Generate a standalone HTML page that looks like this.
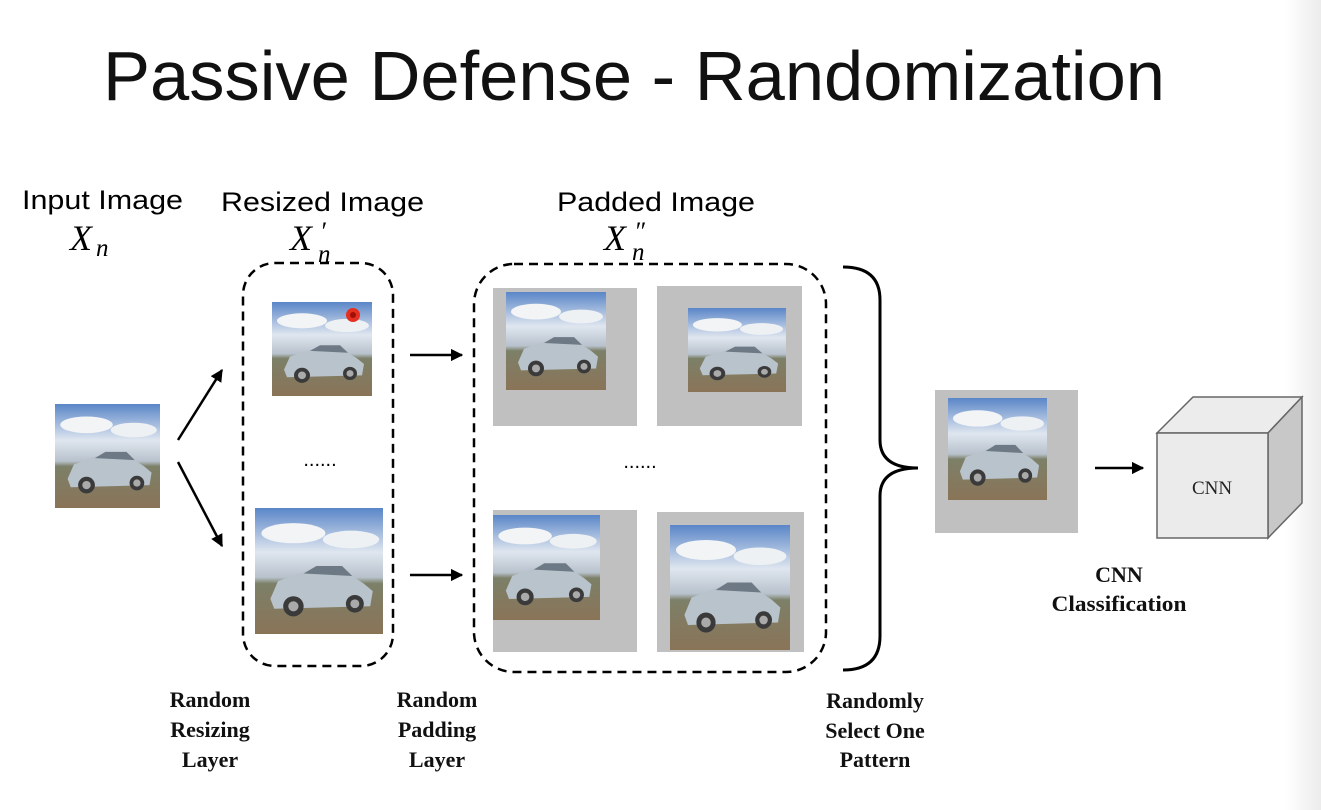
<!DOCTYPE html>
<html><head><meta charset="utf-8"><style>
body{margin:0;background:#fff;}
svg{display:block;}
</style></head><body>
<svg width="1321" height="810" viewBox="0 0 1321 810" xmlns="http://www.w3.org/2000/svg">
<defs>
<linearGradient id="strip" x1="0" x2="1"><stop offset="0" stop-color="#fff"/><stop offset="1" stop-color="#ececec"/></linearGradient>
<linearGradient id="sky" x1="0" y1="0" x2="0" y2="1"><stop offset="0" stop-color="#5a86c8"/><stop offset="0.35" stop-color="#dfe6ef"/><stop offset="0.55" stop-color="#b8c2cc"/><stop offset="0.6" stop-color="#7c8068"/><stop offset="1" stop-color="#8a7458"/></linearGradient>
<symbol id="photo" viewBox="0 0 100 100" preserveAspectRatio="none">
<rect width="100" height="100" fill="url(#sky)"/>
<ellipse cx="30" cy="20" rx="25" ry="8" fill="#f2f4f6"/>
<ellipse cx="75" cy="25" rx="22" ry="7" fill="#eef1f4"/>
<path d="M12 72 L18 58 L40 50 L70 50 L85 60 L92 66 L90 78 L15 80 Z" fill="#b9c3cc"/>
<path d="M38 52 L48 46 L68 46 L76 54 Z" fill="#6d7a86"/>
<circle cx="30" cy="78" r="8" fill="#3a3a3a"/><circle cx="30" cy="78" r="4" fill="#aaa"/>
<circle cx="78" cy="76" r="7" fill="#3a3a3a"/><circle cx="78" cy="76" r="3.5" fill="#aaa"/>
</symbol>
<marker id="ah" viewBox="0 0 10 10" refX="9" refY="5" markerWidth="5" markerHeight="5" orient="auto"><path d="M0 0 L10 5 L0 10 Z" fill="#000"/></marker>
</defs>
<rect x="1285" y="0" width="36" height="810" fill="url(#strip)"/>
<text x="103" y="100" font-family="Liberation Sans, sans-serif" font-size="70" fill="#111" textLength="1062" lengthAdjust="spacingAndGlyphs">Passive Defense - Randomization</text>

<g font-family="Liberation Sans, sans-serif" font-size="27" fill="#000">
<text x="22" y="209" textLength="161" lengthAdjust="spacingAndGlyphs">Input Image</text>
<text x="221" y="211" textLength="203" lengthAdjust="spacingAndGlyphs">Resized Image</text>
<text x="557" y="211" textLength="198" lengthAdjust="spacingAndGlyphs">Padded Image</text>
</g>
<g font-family="Liberation Serif, serif" font-style="italic" font-size="36" fill="#000">
<text x="70" y="250">X</text><text x="96" y="256" font-size="25">n</text>
<text x="290" y="250">X</text><text x="318" y="262" font-size="25">n</text><text x="320" y="240" font-size="26">′</text>
<text x="604" y="250">X</text><text x="632" y="260" font-size="25">n</text><text x="634" y="240" font-size="26">″</text>
</g>

<use href="#photo" x="55" y="404" width="105" height="104"/>
<line x1="178" y1="440" x2="222" y2="370" stroke="#000" stroke-width="2.5" marker-end="url(#ah)"/>
<line x1="178" y1="462" x2="222" y2="546" stroke="#000" stroke-width="2.5" marker-end="url(#ah)"/>

<rect x="243" y="263" width="150" height="403" rx="32" fill="none" stroke="#000" stroke-width="2.5" stroke-dasharray="9,6"/>
<use href="#photo" x="272" y="302" width="100" height="94"/>
<circle cx="353" cy="315" r="7" fill="#e53020"/><circle cx="353" cy="315" r="3" fill="#a01008"/>
<text x="320" y="466" font-family="Liberation Sans, sans-serif" font-size="20" text-anchor="middle">......</text>
<use href="#photo" x="255" y="508" width="128" height="126"/>

<line x1="410" y1="355" x2="462" y2="355" stroke="#000" stroke-width="2.5" marker-end="url(#ah)"/>
<line x1="410" y1="575" x2="462" y2="575" stroke="#000" stroke-width="2.5" marker-end="url(#ah)"/>

<rect x="474" y="264" width="352" height="408" rx="40" fill="none" stroke="#000" stroke-width="2.5" stroke-dasharray="9,6"/>
<rect x="493" y="288" width="144" height="138" fill="#c0c0c0"/>
<use href="#photo" x="506" y="292" width="100" height="98"/>
<rect x="657" y="286" width="145" height="140" fill="#c0c0c0"/>
<use href="#photo" x="688" y="308" width="98" height="84"/>
<text x="640" y="468" font-family="Liberation Sans, sans-serif" font-size="20" text-anchor="middle">......</text>
<rect x="493" y="510" width="144" height="142" fill="#c0c0c0"/>
<use href="#photo" x="493" y="515" width="107" height="105"/>
<rect x="657" y="512" width="147" height="140" fill="#c0c0c0"/>
<use href="#photo" x="670" y="525" width="120" height="125"/>

<path d="M843 267 Q880 267 880 300 L880 440 Q880 468 918 468 Q880 468 880 496 L880 636 Q880 670 843 670" fill="none" stroke="#000" stroke-width="3"/>

<rect x="935" y="390" width="143" height="143" fill="#c0c0c0"/>
<use href="#photo" x="948" y="398" width="99" height="102"/>
<line x1="1095" y1="468" x2="1143" y2="468" stroke="#000" stroke-width="2.5" marker-end="url(#ah)"/>

<polygon points="1157,433 1193,397 1302,397 1268,433" fill="#ececec" stroke="#666" stroke-width="1.5"/>
<polygon points="1268,433 1302,397 1302,503 1268,538" fill="#c8c8c8" stroke="#666" stroke-width="1.5"/>
<rect x="1157" y="433" width="111" height="105" fill="#ebebeb" stroke="#666" stroke-width="1.5"/>
<text x="1212" y="494" font-family="Liberation Serif, serif" font-size="19" text-anchor="middle" fill="#222">CNN</text>

<g font-family="Liberation Serif, serif" font-weight="bold" font-size="22" fill="#111" text-anchor="middle" lengthAdjust="spacingAndGlyphs">
<text x="1119" y="582">CNN</text><text x="1119" y="611" textLength="135" lengthAdjust="spacingAndGlyphs">Classification</text>
<text x="210" y="707">Random</text><text x="210" y="737">Resizing</text><text x="210" y="767">Layer</text>
<text x="437" y="707">Random</text><text x="437" y="737">Padding</text><text x="437" y="767">Layer</text>
<text x="875" y="708">Randomly</text><text x="875" y="738">Select One</text><text x="875" y="767">Pattern</text>
</g>
</svg>
</body></html>
